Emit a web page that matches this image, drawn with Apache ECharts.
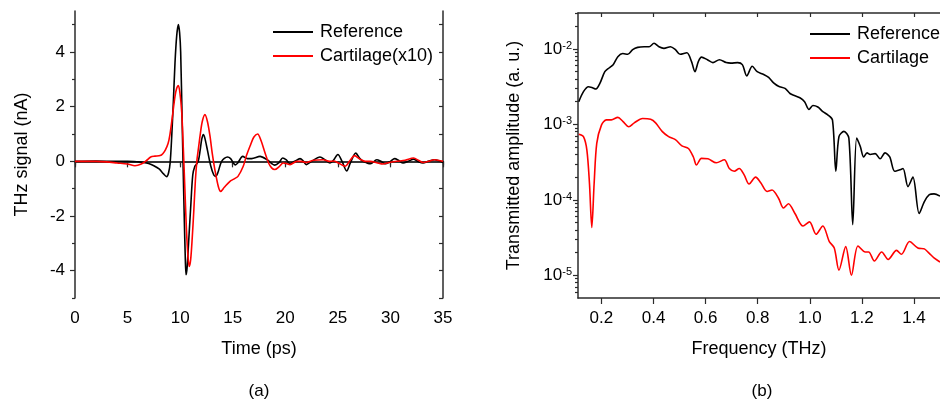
<!DOCTYPE html>
<html>
<head>
<meta charset="utf-8">
<script src="https://cdn.jsdelivr.net/npm/echarts@6/dist/echarts.min.js"></script>
<style>html,body{margin:0;padding:0;background:#fff;}#c{width:940px;height:402px;}</style>
</head>
<body>
<div id="c"></div>
<script>
// ---- Panel (a): time-domain THz signal (nA) ----
const refSignal = [
  [0,0],[2,0.01],[4,0],[5,0],[6,-0.02],[6.5,-0.04],[7,-0.08],[7.5,-0.16],[8,-0.28],[8.4,-0.45],
  [8.72,-0.56],[8.9,-0.42],[9.05,-0.05],[9.2,0.92],[9.35,2.14],[9.51,3.6],[9.67,4.58],[9.83,5.0],
  [9.95,4.7],[10.05,4.0],[10.2,1.3],[10.3,-0.5],[10.4,-2.2],[10.48,-3.4],[10.56,-4.15],[10.66,-3.9],
  [10.8,-3.0],[11.0,-1.7],[11.2,-0.5],[11.4,-0.18],[11.6,-0.08],[11.75,0.05],[11.9,0.4],[12.05,0.8],
  [12.2,0.98],[12.35,0.85],[12.6,0.4],[12.9,-0.15],[13.2,-0.5],[13.38,-0.55],[13.6,-0.4],[13.95,0.0],
  [14.5,0.16],[14.8,0.1],[15.25,-0.13],[15.5,-0.05],[15.95,0.18],[16.4,0.1],[16.8,0.1],[17.6,0.18],
  [18.3,0.05],[19.0,-0.14],[19.4,-0.05],[19.75,0.12],[20.1,0.05],[20.45,-0.09],[20.9,0.0],[21.4,0.1],
  [21.7,0.02],[22.0,-0.12],[22.5,0.0],[23.3,0.16],[23.8,0.05],[24.25,-0.06],[24.6,0.05],[25.0,0.25],
  [25.4,0.0],[25.84,-0.35],[26.2,-0.05],[26.7,0.3],[27.1,0.1],[27.4,0.0],[28.1,-0.09],[28.7,0.06],
  [29.1,0.0],[29.5,-0.09],[30.0,0.0],[30.4,0.1],[30.8,0.03],[31.2,-0.06],[31.7,0.0],[32.2,0.08],
  [32.6,0.0],[33.1,-0.06],[33.6,0.0],[34.2,0.06],[34.6,0.02],[35,-0.04]
];
const cartSignal = [
  [0,0],[2,0],[3,-0.02],[4,-0.06],[5,-0.1],[5.7,-0.16],[6.3,-0.1],[6.8,0.03],[7.2,0.16],[7.6,0.19],
  [8.1,0.21],[8.35,0.28],[8.6,0.42],[8.85,0.65],[9.03,0.98],[9.25,1.6],[9.51,2.38],[9.68,2.68],
  [9.83,2.77],[9.98,2.5],[10.15,1.8],[10.3,0.5],[10.45,-1.0],[10.6,-2.5],[10.75,-3.5],[10.87,-3.85],
  [11.0,-3.6],[11.15,-2.8],[11.3,-1.8],[11.45,-0.7],[11.6,0.05],[11.75,0.5],[11.89,0.92],[12.1,1.45],
  [12.36,1.71],[12.6,1.45],[12.84,0.92],[13.05,0.3],[13.3,-0.3],[13.63,-0.92],[13.86,-1.1],[14.2,-0.95],
  [14.74,-0.73],[15.1,-0.65],[15.5,-0.55],[16.0,-0.18],[16.3,0.2],[16.64,0.55],[17.0,0.88],[17.37,1.0],
  [17.7,0.75],[18.07,0.31],[18.4,-0.05],[18.7,-0.24],[19.0,-0.3],[19.4,-0.2],[19.8,-0.06],[20.1,-0.08],
  [20.45,-0.12],[21.08,0.0],[21.5,0.0],[22.0,-0.04],[22.7,0.04],[23.6,0.06],[24.2,0.0],[24.6,0.01],
  [25.0,-0.05],[25.7,-0.18],[26.1,0.0],[26.6,0.21],[27.1,0.08],[27.6,0.0],[28.1,0.0],[28.7,-0.05],
  [29.3,-0.1],[29.8,-0.05],[30.6,0.0],[31.4,0.04],[32.2,0.12],[32.7,0.03],[33.1,-0.04],[33.6,0.0],
  [34.2,0.06],[35,0.0]
];
const timeTicks = [0,5,10,15,20,25,30,35];
const signalTicks = [-4,-2,0,2,4];
const signalMinorTicks = [-5,-3,-1,1,3,5];
const signalRightTicks = [-5,-4,-3,-2,-1,0,1,2,3,4,5];

// ---- Panel (b): transmitted amplitude spectrum (a. u.) ----
const refSpectrum = [
  [0.113,2.0e-3],[0.131,2.72e-3],[0.15,3.16e-3],[0.163,3.09e-3],[0.179,2.95e-3],[0.194,3.5e-3],
  [0.213,5.0e-3],[0.229,5.6e-3],[0.245,6.2e-3],[0.263,7.9e-3],[0.282,8.7e-3],[0.301,8.5e-3],
  [0.32,9.8e-3],[0.339,1.05e-2],[0.364,1.07e-2],[0.383,1.07e-2],[0.402,1.19e-2],[0.421,1.07e-2],
  [0.44,1.02e-2],[0.465,1.07e-2],[0.484,9.8e-3],[0.502,8.5e-3],[0.528,8.9e-3],[0.546,6.8e-3],
  [0.559,5.0e-3],[0.572,6.8e-3],[0.584,7.8e-3],[0.607,7.2e-3],[0.628,6.6e-3],[0.653,7.2e-3],
  [0.679,6.6e-3],[0.697,6.5e-3],[0.723,6.6e-3],[0.741,6.2e-3],[0.758,4.4e-3],[0.779,5.9e-3],
  [0.798,5.0e-3],[0.823,4.6e-3],[0.842,4.2e-3],[0.861,3.55e-3],[0.88,3.2e-3],[0.905,3.0e-3],
  [0.924,2.57e-3],[0.943,2.4e-3],[0.962,2.26e-3],[0.98,2.0e-3],[0.997,1.58e-3],[1.012,1.78e-3],
  [1.031,1.7e-3],[1.05,1.48e-3],[1.068,1.35e-3],[1.087,1.15e-3],[1.1,2.4e-4],[1.112,6.9e-4],
  [1.131,8.1e-4],[1.15,6.6e-4],[1.165,4.7e-5],[1.18,6.6e-4],[1.194,5.1e-4],[1.207,3.7e-4],
  [1.22,4.2e-4],[1.232,4.0e-4],[1.251,4.1e-4],[1.27,3.5e-4],[1.289,4.2e-4],[1.307,3.7e-4],
  [1.326,2.4e-4],[1.345,2.5e-4],[1.358,2.6e-4],[1.377,1.5e-4],[1.396,2.0e-4],[1.42,6.6e-5],
  [1.44,9.5e-5],[1.459,1.17e-4],[1.477,1.2e-4],[1.5,1.12e-4]
];
const cartSpectrum = [
  [0.113,7.4e-4],[0.131,6.9e-4],[0.144,4.6e-4],[0.154,1.66e-4],[0.163,4.3e-5],[0.172,1.66e-4],
  [0.182,5.6e-4],[0.2,9.8e-4],[0.219,1.15e-3],[0.238,1.15e-3],[0.263,1.24e-3],[0.282,1.1e-3],
  [0.305,9.3e-4],[0.326,1.05e-3],[0.358,1.2e-3],[0.389,1.17e-3],[0.408,1.05e-3],[0.433,8.1e-4],
  [0.458,6.9e-4],[0.484,6.3e-4],[0.509,5.2e-4],[0.534,4.8e-4],[0.553,3.7e-4],[0.565,2.9e-4],
  [0.584,3.55e-4],[0.609,3.5e-4],[0.641,3.1e-4],[0.672,3.4e-4],[0.691,2.6e-4],[0.71,2.4e-4],
  [0.729,2.6e-4],[0.748,2.14e-4],[0.767,1.62e-4],[0.792,2.0e-4],[0.811,1.7e-4],[0.836,1.29e-4],
  [0.855,1.35e-4],[0.88,1.05e-4],[0.899,7.8e-5],[0.918,8.9e-5],[0.943,6.6e-5],[0.974,4.5e-5],
  [0.999,5.1e-5],[1.024,3.5e-5],[1.05,4.5e-5],[1.075,2.8e-5],[1.094,2.3e-5],[1.112,1.17e-5],
  [1.138,2.4e-5],[1.16,1.0e-5],[1.185,2.45e-5],[1.213,2.04e-5],[1.226,2.04e-5],[1.248,1.55e-5],
  [1.276,2.04e-5],[1.301,1.62e-5],[1.333,2.14e-5],[1.352,1.9e-5],[1.383,2.8e-5],[1.415,2.3e-5],
  [1.44,2.24e-5],[1.459,1.95e-5],[1.477,1.7e-5],[1.5,1.5e-5]
];
const freqTicks = [0.2,0.4,0.6,0.8,1.0,1.2,1.4];
const ampTicks = [1e-5,1e-4,1e-3,1e-2];
const ampMinorTicks = [6e-6,7e-6,8e-6,9e-6,
  2e-5,3e-5,4e-5,5e-5,6e-5,7e-5,8e-5,9e-5,
  2e-4,3e-4,4e-4,5e-4,6e-4,7e-4,8e-4,9e-4,
  2e-3,3e-3,4e-3,5e-3,6e-3,7e-3,8e-3,9e-3,
  2e-2,3e-2];

const FONT = "'Liberation Sans', Arial, Helvetica, sans-serif";
const AX = '#2b2b2b';
const axLine = {show:true, lineStyle:{color:AX, width:1.5}};
const noSplit = {show:false};
const tickStyle = {color:AX, width:1.2};
const legendText = {fontSize:18, color:'#000', fontFamily:FONT, padding:[0,0,0,2]};

const chart = echarts.init(document.getElementById('c'), null, {renderer:'canvas'});
chart.setOption({
  backgroundColor:'#fff',
  animation:false,
  textStyle:{fontFamily:FONT, color:'#000'},
  grid:[
    {left:75, top:11, width:368, height:287},
    {left:578, top:13, width:368, height:285}
  ],
  xAxis:[
    {gridIndex:0, type:'value', min:0, max:35, position:'bottom',
     axisLine:axLine, splitLine:noSplit,
     axisTick:{inside:false, length:6, lineStyle:tickStyle, customValues:timeTicks},
     axisLabel:{fontSize:17, color:'#000', margin:12, customValues:timeTicks},
     name:'Time (ps)', nameLocation:'middle', nameGap:42,
     nameTextStyle:{fontSize:18, color:'#000'}},
    {gridIndex:0, type:'value', min:0, max:35, position:'top',
     axisLine:axLine, splitLine:noSplit,
     axisTick:{inside:true, length:4, lineStyle:tickStyle, customValues:timeTicks},
     axisLabel:{show:false}},
    {gridIndex:1, type:'value', min:0.11, max:1.5, position:'bottom',
     axisLine:axLine, splitLine:noSplit,
     axisTick:{inside:false, length:6, lineStyle:tickStyle, customValues:freqTicks},
     axisLabel:{fontSize:17, color:'#000', margin:12, customValues:freqTicks,
       formatter:function(v){return v.toFixed(1);}},
     name:'Frequency (THz)', nameLocation:'middle', nameGap:42,
     nameTextStyle:{fontSize:18, color:'#000'}},
    {gridIndex:1, type:'value', min:0.11, max:1.5, position:'top',
     axisLine:axLine, splitLine:noSplit,
     axisTick:{inside:true, length:4, lineStyle:tickStyle, customValues:freqTicks},
     axisLabel:{show:false}}
  ],
  yAxis:[
    {gridIndex:0, type:'value', min:-5, max:5.5, position:'left',
     axisLine:axLine, splitLine:noSplit,
     axisTick:{inside:false, length:5, lineStyle:tickStyle, customValues:signalTicks},
     axisLabel:{fontSize:17, color:'#000', margin:10, customValues:signalTicks},
     name:'THz signal (nA)', nameLocation:'middle', nameGap:44, nameRotate:90,
     nameTextStyle:{fontSize:18, color:'#000'}},
    {gridIndex:0, type:'value', min:-5, max:5.5, position:'left',
     axisLine:{show:false}, splitLine:noSplit,
     axisTick:{inside:false, length:3, lineStyle:tickStyle, customValues:signalMinorTicks},
     axisLabel:{show:false}},
    {gridIndex:0, type:'value', min:-5, max:5.5, position:'right',
     axisLine:axLine, splitLine:noSplit,
     axisTick:{inside:true, length:4, lineStyle:tickStyle, customValues:signalRightTicks},
     axisLabel:{show:false}},
    {gridIndex:1, type:'log', logBase:10, min:5e-6, max:3e-2, position:'left',
     axisLine:axLine, splitLine:noSplit,
     axisTick:{inside:false, length:5, lineStyle:tickStyle, customValues:ampTicks},
     axisLabel:{color:'#000', margin:6, customValues:ampTicks,
       formatter:function(v){ const e = Math.round(Math.log10(v)); return '{b|10}{s|' + e + '}'; },
       rich:{ b:{fontSize:17, color:'#000', fontFamily:FONT},
              s:{fontSize:11, color:'#000', fontFamily:FONT, verticalAlign:'top'} }},
     name:'Transmitted amplitude (a. u.)', nameLocation:'middle', nameGap:55, nameRotate:90,
     nameTextStyle:{fontSize:18, color:'#000'}},
    {gridIndex:1, type:'log', logBase:10, min:5e-6, max:3e-2, position:'left',
     axisLine:{show:false}, splitLine:noSplit,
     axisTick:{inside:false, length:3, lineStyle:tickStyle, customValues:ampMinorTicks},
     axisLabel:{show:false}}
  ],
  legend:[
    {orient:'vertical', left:268, top:18, icon:'rect', itemWidth:40, itemHeight:1.8, itemGap:6,
     data:['Reference','Cartilage(x10)'], textStyle:legendText},
    {orient:'vertical', left:805, top:20, icon:'rect', itemWidth:40, itemHeight:1.8, itemGap:6,
     data:['Reference','Cartilage'], textStyle:legendText}
  ],
  graphic:[
    {type:'text', x:259, y:391, style:{text:'(a)', fontSize:17, fontFamily:FONT, fill:'#000', align:'center', verticalAlign:'middle'}},
    {type:'text', x:762, y:391, style:{text:'(b)', fontSize:17, fontFamily:FONT, fill:'#000', align:'center', verticalAlign:'middle'}}
  ],
  series:[
    {type:'line', name:'Reference', xAxisIndex:0, yAxisIndex:0, data:refSignal,
     symbol:'none', smooth:0.3, color:'#000', lineStyle:{color:'#000', width:1.6}, z:2},
    {type:'line', name:'Cartilage(x10)', xAxisIndex:0, yAxisIndex:0, data:cartSignal,
     symbol:'none', smooth:0.3, color:'#ff0000', lineStyle:{color:'#ff0000', width:1.6}, z:3},
    {type:'line', name:'Reference', xAxisIndex:2, yAxisIndex:3, data:refSpectrum,
     symbol:'none', smooth:0.3, color:'#000', lineStyle:{color:'#000', width:1.6}, z:2},
    {type:'line', name:'Cartilage', xAxisIndex:2, yAxisIndex:3, data:cartSpectrum,
     symbol:'none', smooth:0.3, color:'#ff0000', lineStyle:{color:'#ff0000', width:1.6}, z:3}
  ]
});
</script>
</body>
</html>
